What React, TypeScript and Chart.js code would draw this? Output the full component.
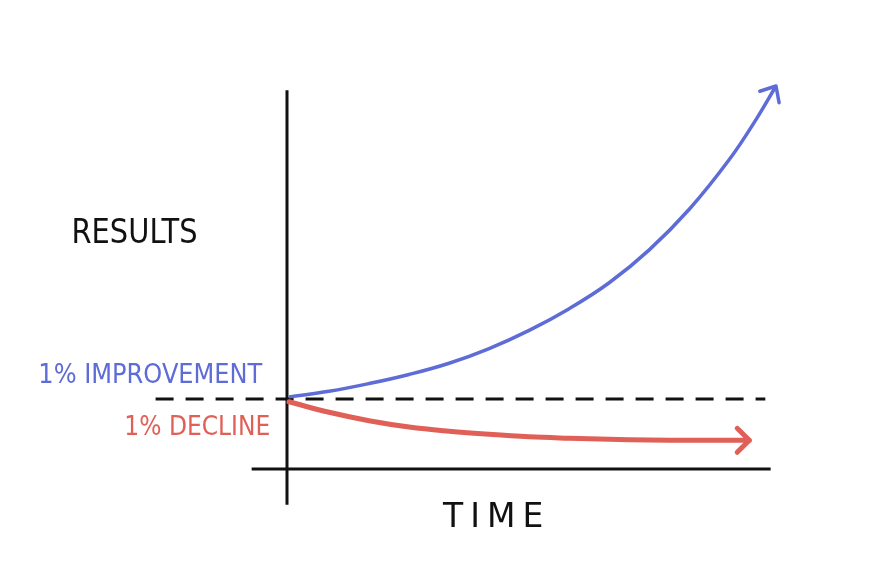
import React, { useEffect, useRef } from "react";
import { Chart, registerables } from "chart.js";
Chart.register(...registerables);

// Time in days, results in arbitrary units (dashed baseline = 100)
const improveDays = [0, 30, 60, 90, 120, 150, 180, 210, 240, 270, 300, 330, 350, 365];
const improvement = [103, 111, 122, 135, 151, 172, 198, 229, 266, 313, 371, 442, 499, 547];
const declineDays = [0, 30, 60, 90, 120, 150, 180, 210, 240, 270, 300, 345];
const decline = [96, 81, 69, 60, 54, 49.5, 46, 44, 42.5, 41.5, 41, 41];
const baselineDays = [-100, 357];
const baselineValues = [100, 100];
const timeAxisDays = [-28, 361];
const timeAxisValues = [0, 0];
const resultsAxisDays = [-1.5, -1.5];
const resultsAxisValues = [541, -51];

const yLabel = "RESULTS";
const xLabel = "TIME";
const improveLabel = "1% IMPROVEMENT";
const declineLabel = "1% DECLINE";

const BLUE = "#5d6cd6";
const RED = "#e06058";
const INK = "#111111";

const pts = (xs: number[], ys: number[]) => xs.map((x, i) => ({ x, y: ys[i] }));

const arrowPlugin = {
  id: "arrowHeads",
  afterDatasetsDraw(chart: any) {
    const ctx = chart.ctx;
    chart.data.datasets.forEach((ds: any, i: number) => {
      if (!ds.arrow) return;
      const meta = chart.getDatasetMeta(i);
      const n = meta.data.length;
      const last = meta.data[n - 1];
      const prev = meta.data[n - 2];
      let bx = prev.x, by = prev.y;
      if (last.cp1x !== undefined && last.cp1x !== null && (last.cp1x !== last.x || last.cp1y !== last.y)) {
        bx = last.cp1x; by = last.cp1y;
      }
      const ang = Math.atan2(by - last.y, bx - last.x);
      const L = ds.arrow.len, spread = ds.arrow.spread;
      ctx.save();
      ctx.strokeStyle = ds.borderColor;
      ctx.lineWidth = ds.borderWidth;
      ctx.lineCap = "round";
      ctx.lineJoin = "round";
      ctx.beginPath();
      ctx.moveTo(last.x + L * Math.cos(ang + spread), last.y + L * Math.sin(ang + spread));
      ctx.lineTo(last.x, last.y);
      ctx.lineTo(last.x + L * Math.cos(ang - spread), last.y + L * Math.sin(ang - spread));
      ctx.stroke();
      ctx.restore();
    });
  },
};

const labelPlugin = {
  id: "sketchLabels",
  afterDraw(chart: any) {
    const ctx = chart.ctx;
    const xs = chart.scales.x, ys = chart.scales.y;
    const put = (text: string, d: number, v: number, color: string, size: number, align: CanvasTextAlign, maxW?: number, spacing?: string) => {
      ctx.save();
      ctx.fillStyle = color;
      ctx.font = `${size}px "DejaVu Sans"`;
      ctx.textAlign = align;
      ctx.textBaseline = "alphabetic";
      if (spacing) (ctx as any).letterSpacing = spacing;
      const px = xs.getPixelForValue(d), py = ys.getPixelForValue(v);
      if (maxW) ctx.fillText(text, px, py, maxW);
      else ctx.fillText(text, px, py);
      ctx.restore();
    };
    put(yLabel, -163, 323, INK, 33, "left", 126);
    put(xLabel, 115.5, -83, INK, 33, "left", undefined, "7px");
    put(improveLabel, -20, 123, BLUE, 27, "right", 224);
    put(declineLabel, -14, 49, RED, 27, "right", 146);
  },
};

export default function App() {
  const ref = useRef<HTMLCanvasElement | null>(null);
  useEffect(() => {
    if (!ref.current) return;
    const chart = new Chart(ref.current, {
      type: "line",
      data: {
        datasets: [
          {
            label: "1% improvement",
            data: pts(improveDays, improvement),
            borderColor: BLUE,
            borderWidth: 3.5,
            tension: 0.4,
            pointRadius: 0,
            clip: false,
            arrow: { len: 17, spread: 0.72 },
          } as any,
          {
            label: "1% decline",
            data: pts(declineDays, decline),
            borderColor: RED,
            borderWidth: 5,
            tension: 0.4,
            pointRadius: 0,
            clip: false,
            borderCapStyle: "round",
            arrow: { len: 17, spread: 0.78 },
          } as any,
          {
            label: "baseline",
            data: pts(baselineDays, baselineValues),
            borderColor: INK,
            borderWidth: 3,
            borderDash: [18, 12],
            pointRadius: 0,
            clip: false,
          } as any,
          {
            label: "time axis",
            data: pts(timeAxisDays, timeAxisValues),
            borderColor: INK,
            borderWidth: 3,
            pointRadius: 0,
            clip: false,
          } as any,
          {
            label: "results axis",
            data: pts(resultsAxisDays, resultsAxisValues),
            borderColor: INK,
            borderWidth: 3,
            pointRadius: 0,
            clip: false,
          } as any,
        ],
      },
      options: {
        animation: false,
        responsive: true,
        maintainAspectRatio: false,
        layout: { autoPadding: false, padding: { left: 289, right: 99, top: 86, bottom: 104 } },
        scales: {
          x: { type: "linear", min: 0, max: 365, display: false },
          y: { type: "linear", min: 0, max: 547, display: false },
        },
        plugins: { legend: { display: false }, tooltip: { enabled: false } },
      } as any,
      plugins: [arrowPlugin, labelPlugin],
    });
    return () => chart.destroy();
  }, []);
  return (
    <div style={{ position: "absolute", left: 0, top: 0, width: 875, height: 573, background: "#fff" }}>
      <canvas ref={ref} />
    </div>
  );
}
